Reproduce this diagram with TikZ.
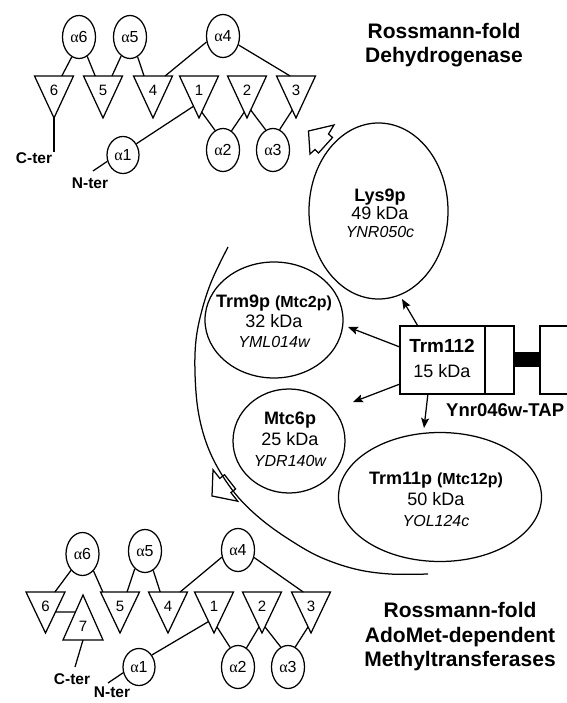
\documentclass[tikz,border=0pt]{standalone}
\usepackage{fontspec}
\setmainfont{Liberation Sans}
\newfontfamily\grkfont{Liberation Serif}
\usetikzlibrary{shapes.geometric,arrows.meta,calc}

\newcommand{\alp}[1]{{\grkfont α}#1}
% name, cx, ytop, height, label
\newcommand{\dtri}[5]{%
  \draw[tri] (#2-19.5,#3) coordinate (#1l) -- (#2+19.5,#3) coordinate (#1r) -- (#2,#3+#4) coordinate (#1a) -- cycle;
  \node[trinum] (#1n) at (#2,#3+14) {#5};
}

\tikzset{
  lw/.style={line width=1.25pt},
  tri/.style={lw, line join=miter},
  trinum/.style={inner sep=0pt, font=\fontsize{15}{18}\selectfont},
  helix/.style={draw, lw, ellipse, minimum width=33pt, minimum height=43pt, inner sep=0pt, font=\fontsize{16}{18}\selectfont},
  helixs/.style={helix, minimum width=32pt, minimum height=37pt},
  conn/.style={lw},
  ter/.style={inner sep=0pt, font=\fontsize{15.5}{18}\selectfont\bfseries},
  title/.style={align=center, inner sep=0pt, font=\fontsize{21}{24.5}\selectfont\bfseries},
  prot/.style={draw, lw, ellipse, inner sep=0pt},
  ptext/.style={align=center, inner sep=0pt, font=\fontsize{18}{20.5}\selectfont},
  boxst/.style={draw, lw, rectangle, inner sep=0pt},
  arr/.style={lw, -{Stealth[length=10pt,width=8pt,inset=2pt]}},
  blockarrow/.style={lw, line join=miter},
}

\begin{document}
\begin{tikzpicture}[x=1pt,y=-1pt]
\useasboundingbox (0,0) rectangle (566,703);

% ---------- Top Rossmann fold ----------
\node[title] (titleA) at (444,45) {Rossmann-fold\\Dehydrogenase};

\node[helix] (ta6) at (79,37) {\alp{6}};
\node[helix] (ta5) at (130,37) {\alp{5}};
\node[helix] (ta4) at (223,36) {\alp{4}};
\node[helixs] (ta1) at (123,155) {\alp{1}};
\node[helix] (ta2) at (223,150) {\alp{2}};
\node[helix] (ta3) at (273,150) {\alp{3}};

\dtri{A6}{54}{76}{42}{6}
\dtri{A5}{103}{76}{42}{5}
\dtri{A4}{153}{76}{42}{4}
\dtri{A1}{199}{76}{42}{1}
\dtri{A2}{247}{76}{42}{2}
\dtri{A3}{296}{76}{42}{3}

\draw[conn] (ta6.250) -- ($(A6l)!0.7!(A6r)$);
\draw[conn] (ta6.293) -- ($(A5l)!0.3!(A5r)$);
\draw[conn] (ta5.245) -- ($(A5l)!0.73!(A5r)$);
\draw[conn] (ta5.291) -- ($(A4l)!0.27!(A4r)$);
\draw[conn] (ta4.200) -- ($(A4l)!0.81!(A4r)$);
\draw[conn] (ta4.330) -- ($(A3l)!0.35!(A3r)$);
\draw[conn] (ta1.40) -- ($(A1l)!0.72!(A1a)$);
\draw[conn] (ta2.112) -- ($(A1r)!0.86!(A1a)$);
\draw[conn] (ta2.66) -- ($(A2l)!0.86!(A2a)$);
\draw[conn] (ta3.110) -- ($(A2r)!0.81!(A2a)$);
\draw[conn] (ta3.72) -- ($(A3l)!0.81!(A3a)$);

\coordinate (ctA) at (54,152);
\coordinate (ntA) at (93,171);
\draw[conn] (A6a) -- (ctA);
\draw[conn] (ta1.202) -- (ntA);
\node[ter] (cterA) at (34,158) {C-ter};
\node[ter] (nterA) at (90,183) {N-ter};

% ---------- Bottom Rossmann fold ----------
\node[title] (titleB) at (460,637) {Rossmann-fold\\AdoMet-dependent\\Methyltransferases};

\node[helix] (ba6) at (82.5,554) {\alp{6}};
\node[helix] (ba5) at (145,551) {\alp{5}};
\node[helix] (ba4) at (238,550) {\alp{4}};
\node[helixs] (ba1) at (139,667) {\alp{1}};
\node[helix] (ba2) at (238,667) {\alp{2}};
\node[helix] (ba3) at (288,667) {\alp{3}};

\dtri{B6}{45.5}{592}{41}{6}
\dtri{B5}{120}{592}{41}{5}
\dtri{B4}{168}{592}{41}{4}
\dtri{B1}{214}{592}{41}{1}
\dtri{B2}{262}{592}{41}{2}
\dtri{B3}{311}{592}{41}{3}
\draw[tri] (63,640) coordinate (B7l) -- (103,640) coordinate (B7r) -- (83,595) coordinate (B7a) -- cycle;
\node[trinum] (B7n) at (83,626) {7};

\draw[conn] (ba6.235) -- ($(B6l)!0.74!(B6r)$);
\draw[conn] (ba6.303) -- ($(B5l)!0.06!(B5r)$);
\draw[conn] (ba5.240) -- ($(B5l)!0.68!(B5r)$);
\draw[conn] (ba5.293) -- ($(B4l)!0.3!(B4r)$);
\draw[conn] (ba4.204) -- ($(B4l)!0.81!(B4r)$);
\draw[conn] (ba4.335) -- ($(B3l)!0.3!(B3r)$);
\draw[conn] (ba1.43) -- ($(B1l)!0.72!(B1a)$);
\draw[conn] (ba2.112) -- ($(B1r)!0.85!(B1a)$);
\draw[conn] (ba2.66) -- ($(B2l)!0.85!(B2a)$);
\draw[conn] (ba3.110) -- ($(B2r)!0.85!(B2a)$);
\draw[conn] (ba3.70) -- ($(B3l)!0.85!(B3a)$);
\draw[conn] ($(B6r)!0.49!(B6a)$) -- ($(B7a)!0.38!(B7l)$);

\coordinate (ctB) at (75,667);
\coordinate (ntB) at (108,683);
\draw[conn] ($(B7l)!0.5!(B7r)$) -- (ctB);
\draw[conn] (ba1.200) -- (ntB);
\node[ter] (cterB) at (72,679) {C-ter};
\node[ter] (nterB) at (112,692.5) {N-ter};

% ---------- big arc ----------
\draw[lw] plot[smooth, tension=0.6] coordinates {(228,247) (212,280) (202,310) (196,340) (195,373) (198,410) (206,442) (219,470) (238,497) (262,520) (290,540) (320,557) (355,569) (390,574) (428,574)};

% ---------- hollow block arrows ----------
\draw[blockarrow] (308.5,131) -- (334,125) -- (328.5,134) -- (332.5,137.5) -- (318.5,153) -- (315,149.5) -- (310,154) -- cycle;
\draw[blockarrow] (212,496) -- (237.7,501.2) -- (230.9,492.6) -- (235.6,488.9) -- (224.5,474.7) -- (219.8,478.4) -- (213,469.8) -- cycle;

% ---------- protein ellipses ----------
\node[prot, minimum width=139pt, minimum height=176pt] (lys) at (378.5,211) {};
\node[ptext, font=\fontsize{18}{18}\selectfont] (lyst) at (380,213) {\textbf{Lys9p}\\49 kDa\\{\fontsize{16}{18}\selectfont\itshape YNR050c}};

\node[prot, minimum width=138pt, minimum height=116pt] (trm9) at (274,320) {};
\node[ptext, font=\fontsize{18}{20}\selectfont] (trm9t) at (274,321) {\textbf{Trm9p {\fontsize{16}{18}\selectfont(Mtc2p)}}\\32 kDa\\{\fontsize{16}{18}\selectfont\itshape YML014w}};

\node[prot, minimum width=112pt, minimum height=104pt] (mtc6) at (289,441) {};
\node[ptext, font=\fontsize{18}{21}\selectfont] (mtc6t) at (290,439) {\textbf{Mtc6p}\\25 kDa\\{\fontsize{16}{18}\selectfont\itshape YDR140w}};

\node[prot, minimum width=203pt, minimum height=129pt] (trm11) at (440,497) {};
\node[ptext, font=\fontsize{18}{21}\selectfont] (trm11t) at (436,499) {\textbf{Trm11p {\fontsize{16}{18}\selectfont(Mtc12p)}}\\50 kDa\\{\fontsize{16}{18}\selectfont\itshape YOL124c}};

% ---------- Trm112 / TAP ----------
\node[boxst, minimum width=85pt, minimum height=68pt] (trm) at (442.5,360) {};
\node[ptext, font=\fontsize{18}{25}\selectfont] (trmt) at (442,358) {{\fontsize{19}{25}\selectfont\bfseries Trm112}\\15 kDa};
\node[boxst, minimum width=29pt, minimum height=68pt] (tapa) at (499.5,360) {};
\node[fill=black, inner sep=0pt, minimum width=26pt, minimum height=15pt] (bar) at (527,359.5) {};
\coordinate (tapTR) at (570,326);
\coordinate (tapBR) at (570,394);
\draw[lw] (tapTR) -- (540,326) -- (540,394) -- (tapBR);
\node[inner sep=0pt, anchor=west, font=\fontsize{18.5}{20}\selectfont\bfseries] (ynr) at (446,410) {Ynr046w-TAP};

% ---------- arrows from Trm112 ----------
\coordinate (eLys) at (402,299);
\coordinate (eTrm9) at (348,327);
\coordinate (eMtc6) at (353,402);
\coordinate (eTrm11) at (424,428);
\draw[arr] ($(trm.north west)!0.21!(trm.north east)$) -- (eLys);
\draw[arr] ($(trm.north west)!0.31!(trm.south west)$) -- (eTrm9);
\draw[arr] ($(trm.north west)!0.85!(trm.south west)$) -- (eMtc6);
\draw[arr] ($(trm.south west)!0.33!(trm.south east)$) -- (eTrm11);
\end{tikzpicture}
\end{document}
